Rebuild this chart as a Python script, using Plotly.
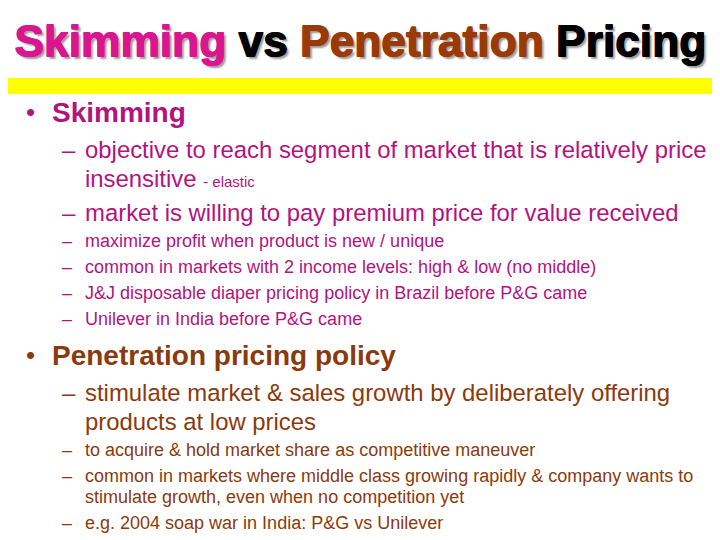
import plotly.graph_objects as go

# slide text, top to bottom
title_words = ["Skimming", "vs", "Penetration", "Pricing"]
title_colors = ["#D9168F", "#000000", "#9A3A06", "#000000"]

heads = ["Skimming", "Penetration pricing policy"]
head_colors = ["#B3137F", "#8B3A0C"]

skim_big = [
    "objective to reach segment of market that is relatively price",
    "insensitive <span style='font-size:15px'>- elastic</span>",
    "market is willing to pay premium price for value received",
]
skim_big_dash = [True, False, True]
skim_small = [
    "maximize profit when product is new / unique",
    "common in markets with 2 income levels: high & low (no middle)",
    "J&J disposable diaper pricing policy in Brazil before P&G came",
    "Unilever in India before P&G came",
]
skim_small_dash = [True, True, True, True]

pen_big = [
    "stimulate market & sales growth by deliberately offering",
    "products at low prices",
]
pen_big_dash = [True, False]
pen_small = [
    "to acquire & hold market share as competitive maneuver",
    "common in markets where middle class growing rapidly & company wants to",
    "stimulate growth, even when no competition yet",
    "e.g. 2004 soap war in India: P&G vs Unilever",
]
pen_small_dash = [True, True, False, True]

FONT = "Liberation Sans, Arial, sans-serif"
OFF = 8  # page body margin in the browser

fig = go.Figure()
fig.add_trace(go.Scatter(x=[OFF, 720 + OFF], y=[OFF, 540 + OFF], mode="markers",
                         marker=dict(opacity=0), hoverinfo="skip"))

# yellow band under the title
fig.add_shape(type="rect", x0=-20, x1=760, y0=78, y1=94,
              fillcolor="#FFFF00", line_width=0, layer="below")


def heavy(word, color):
    sh = "1px 0 0 {c},0 1px 0 {c},1px 1px 0 {c},3px 3px 2px #9a9a9a".format(c=color)
    return "<span style='color:%s;text-shadow:%s'>%s</span>" % (color, sh, word)


title = " ".join(heavy(w, c) for w, c in zip(title_words, title_colors))
fig.add_annotation(x=360, y=40, text="<b>" + title + "</b>", showarrow=False,
                   font=dict(family=FONT, size=44.3),
                   xanchor="center", yanchor="middle")


def text(x, y, s, size, color, bold=False):
    fig.add_annotation(x=x, y=y, text=("<b>%s</b>" % s) if bold else s,
                       showarrow=False, xanchor="left", yanchor="middle",
                       font=dict(family=FONT, size=size, color=color))


def section(y0, head, color, big, big_dash, small, small_dash):
    text(24, y0, "•", 26, color)
    text(50, y0, head, 28, color, bold=True)
    y = y0 + 37
    for i, (line, dash) in enumerate(zip(big, big_dash)):
        if i > 0:
            y += 34 if dash else 29
        if dash:
            text(60, y, "–", 24, color)
        text(83, y, line, 23.9, color)
    y += 3
    for line, dash in zip(small, small_dash):
        y += 26 if dash else 21
        if dash:
            text(60, y, "–", 18, color)
        text(83, y, line, 18, color)


section(112, heads[0], head_colors[0], skim_big, skim_big_dash,
        skim_small, skim_small_dash)
section(355, heads[1], head_colors[1], pen_big, pen_big_dash,
        pen_small, pen_small_dash)

fig.update_xaxes(range=[OFF, 720 + OFF], visible=False, fixedrange=True)
fig.update_yaxes(range=[540 + OFF, OFF], visible=False, fixedrange=True)
fig.update_layout(width=720, height=540, margin=dict(l=0, r=0, t=0, b=0),
                  plot_bgcolor="white", paper_bgcolor="white", showlegend=False)

fig.write_html("out.html")
